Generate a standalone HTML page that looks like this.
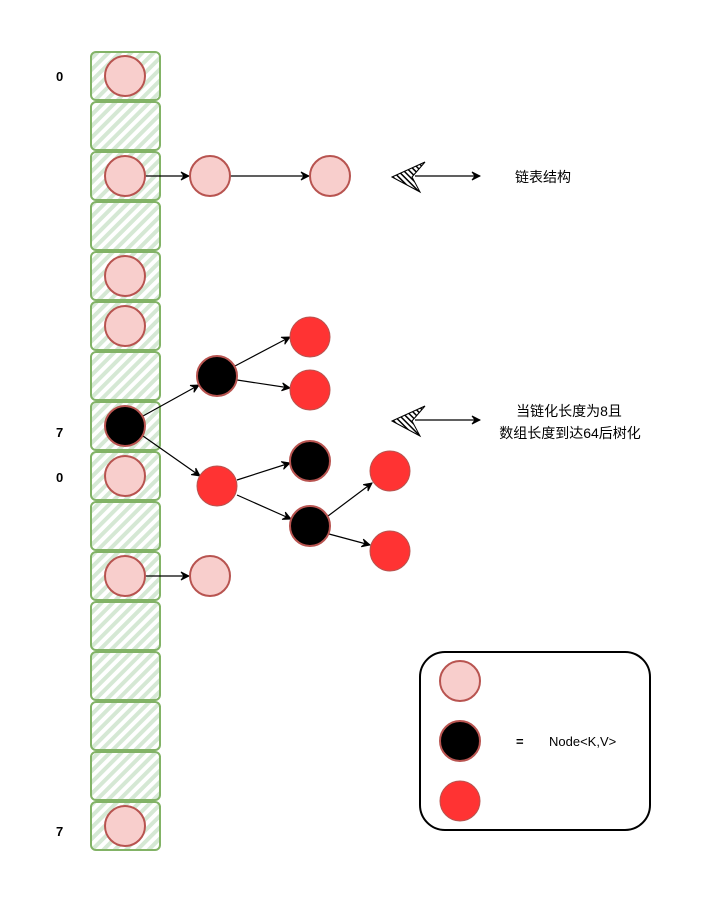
<!DOCTYPE html>
<html><head><meta charset="utf-8"><style>
body{margin:0;background:#fff}
text{font-family:"Liberation Sans","Noto Sans CJK SC",sans-serif;font-size:13px}
</style></head><body>
<svg width="711" height="902" viewBox="0 0 711 902" xmlns="http://www.w3.org/2000/svg">
<defs>
<pattern id="h" patternUnits="userSpaceOnUse" width="8" height="8" patternTransform="rotate(45)">
<rect width="8" height="8" fill="#fff"/><rect width="4" height="8" fill="#d5e8d4"/></pattern>
<pattern id="k" patternUnits="userSpaceOnUse" width="4" height="4" patternTransform="rotate(-45)">
<rect width="4" height="4" fill="#fff"/><rect width="1.5" height="4" fill="#000"/></pattern>
<marker id="a" markerWidth="10" markerHeight="10" refX="9" refY="5" orient="auto" markerUnits="userSpaceOnUse">
<path d="M1,1 L9,5 L1,9 L4,5 Z" fill="#000" stroke="#000"/></marker>
</defs>
<g stroke="#82b366" stroke-width="2" fill="url(#h)">
<rect x="91" y="52" width="69" height="48" rx="5"/><rect x="91" y="102" width="69" height="48" rx="5"/>
<rect x="91" y="152" width="69" height="48" rx="5"/><rect x="91" y="202" width="69" height="48" rx="5"/>
<rect x="91" y="252" width="69" height="48" rx="5"/><rect x="91" y="302" width="69" height="48" rx="5"/>
<rect x="91" y="352" width="69" height="48" rx="5"/><rect x="91" y="402" width="69" height="48" rx="5"/>
<rect x="91" y="452" width="69" height="48" rx="5"/><rect x="91" y="502" width="69" height="48" rx="5"/>
<rect x="91" y="552" width="69" height="48" rx="5"/><rect x="91" y="602" width="69" height="48" rx="5"/>
<rect x="91" y="652" width="69" height="48" rx="5"/><rect x="91" y="702" width="69" height="48" rx="5"/>
<rect x="91" y="752" width="69" height="48" rx="5"/><rect x="91" y="802" width="69" height="48" rx="5"/>
</g>
<g font-weight="bold" style="font-size:14px">
<text x="56" y="81">0</text><text x="56" y="437">7</text><text x="56" y="482">0</text><text x="56" y="836">7</text></g>
<g stroke="#000" stroke-width="1.2" fill="none" marker-end="url(#a)">
<line x1="145" y1="176" x2="189" y2="176"/><line x1="230" y1="176" x2="309" y2="176"/>
<line x1="145" y1="576" x2="189" y2="576"/>
<line x1="143" y1="416" x2="199" y2="385"/><line x1="143" y1="436" x2="200" y2="476"/>
<line x1="235" y1="366" x2="290" y2="337"/><line x1="237" y1="380" x2="290" y2="388"/>
<line x1="237" y1="480" x2="290" y2="463"/><line x1="237" y1="495" x2="291" y2="519"/>
<line x1="328" y1="516" x2="372" y2="483"/><line x1="329" y1="534" x2="370" y2="545"/>
<line x1="415" y1="176" x2="480" y2="176"/><line x1="415" y1="420" x2="480" y2="420"/>
</g>
<g stroke="#000" fill="url(#k)">
<path d="M392,177 L425,162 L412,177 L420,192 Z"/><path d="M392,421 L425,406 L412,421 L420,436 Z"/></g>
<g stroke="#b85450" stroke-width="2">
<g fill="#f8cecc"><circle cx="125" cy="76" r="20"/><circle cx="125" cy="176" r="20"/><circle cx="125" cy="276" r="20"/>
<circle cx="125" cy="326" r="20"/><circle cx="125" cy="476" r="20"/><circle cx="125" cy="576" r="20"/>
<circle cx="125" cy="826" r="20"/><circle cx="210" cy="176" r="20"/><circle cx="330" cy="176" r="20"/>
<circle cx="210" cy="576" r="20"/><circle cx="460" cy="681" r="20"/></g>
<g fill="#000"><circle cx="125" cy="426" r="20"/><circle cx="217" cy="376" r="20"/><circle cx="310" cy="461" r="20"/>
<circle cx="310" cy="526" r="20"/><circle cx="460" cy="741" r="20"/></g>
</g>
<g fill="#ff3333" stroke="#b85450" stroke-width="1" ><circle cx="310" cy="337" r="20"/><circle cx="310" cy="390" r="20"/>
<circle cx="217" cy="486" r="20"/><circle cx="390" cy="471" r="20"/><circle cx="390" cy="551" r="20"/><circle cx="460" cy="801" r="20"/></g>
<rect x="420" y="652" width="230" height="178" rx="25" fill="none" stroke="#000" stroke-width="2"/>
<text x="516" y="746" font-weight="bold">=</text><text x="549" y="746">Node&lt;K,V&gt;</text>
<text x="543" y="182" text-anchor="middle" style="font-size:14px">链表结构</text>
<text x="569" y="416" text-anchor="middle" style="font-size:14px">当链化长度为8且</text>
<text x="570" y="438" text-anchor="middle" style="font-size:14px">数组长度到达64后树化</text>
</svg>
</body></html>
